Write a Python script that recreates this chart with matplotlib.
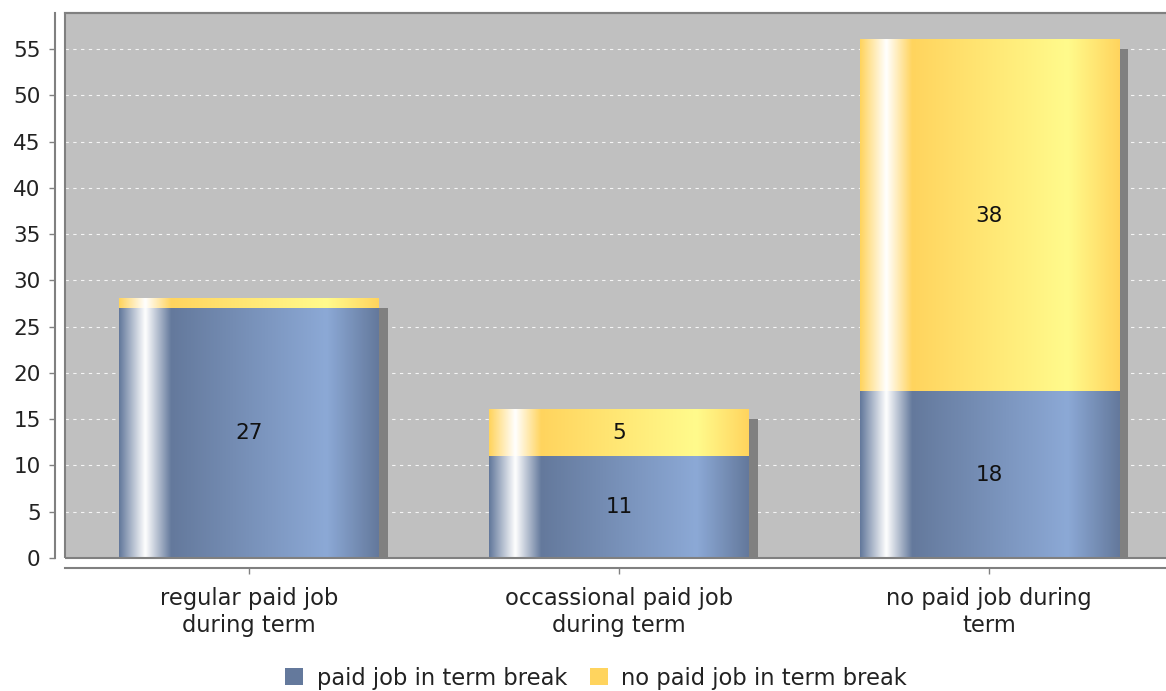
"""Stacked bar chart: paid job during term vs. paid job in term break."""
import matplotlib

matplotlib.use("Agg")
import matplotlib.pyplot as plt
import matplotlib.transforms as mtransforms
import numpy as np
from matplotlib.colors import to_rgb
from matplotlib.patches import Patch, Rectangle

categories = ["regular paid job\nduring term", "occassional paid job\nduring term", "no paid job during\nterm"]
series_names = ["paid job in term break", "no paid job in term break"]
paid_break = [27, 11, 18]
no_paid_break = [1, 5, 38]

# base colour / brighter colour for the gradient painter
BLUE = ("#64799c", "#8ca9d6")
YELLOW = ("#ffd45e", "#fffb8c")
GRID_BG = "#c0c0c0"
AXIS_GRAY = "#808080"


def gradient_row(base, bright, n=256):
    """Horizontal bar gradient: base -> white -> base -> bright -> base."""
    stops = [0.0, 0.10, 0.20, 0.80, 1.0]
    cols = [to_rgb(base), (1, 1, 1), to_rgb(base), to_rgb(bright), to_rgb(base)]
    t = np.linspace(0, 1, n)
    rgb = np.stack([np.interp(t, stops, [c[i] for c in cols]) for i in range(3)], axis=-1)
    return rgb[np.newaxis, :, :]


fig = plt.figure(figsize=(11.66, 6.91), dpi=100)
ax = fig.add_axes([65 / 1166, 133 / 691, 1108 / 1166, 545 / 691])
ax.set_facecolor(GRID_BG)

x = np.arange(len(categories))
width = 0.7
bottoms = [np.zeros(len(x)), np.array(paid_break, dtype=float)]
shadow_tf = mtransforms.offset_copy(ax.transData, fig=fig, x=9.5, y=-9.5, units="dots")

for vals, bottom, (base, bright) in zip([paid_break, no_paid_break], bottoms, [BLUE, YELLOW]):
    bars = ax.bar(x, vals, width, bottom=bottom, color=base, zorder=3)
    for patch, v in zip(bars.patches, vals):
        x0, y0 = patch.get_x(), patch.get_y()
        w, h = patch.get_width(), patch.get_height()
        # drop shadow
        ax.add_patch(Rectangle((x0, y0), w, h, transform=shadow_tf,
                               facecolor=AXIS_GRAY, edgecolor="none", zorder=2))
        ax.imshow(gradient_row(base, bright), extent=[x0, x0 + w, y0, y0 + h],
                  aspect="auto", interpolation="bilinear", zorder=4)
        if v >= 2:
            ax.text(x0 + w / 2, y0 + h / 2, str(v), ha="center", va="center",
                    fontsize=15.5, color="#111111", zorder=5)

ax.set_xlim(-0.497, 2.497)
ax.set_ylim(0, 58.9)
ax.set_yticks(range(0, 56, 5))
ax.set_xticks(x)
ax.set_xticklabels(categories)

ax.set_axisbelow(True)
ax.yaxis.grid(True, color="white", linestyle=(0, (3, 4)), linewidth=0.8, alpha=0.85)

for side in ["top", "right"]:
    ax.spines[side].set_color(AXIS_GRAY)
    ax.spines[side].set_linewidth(1.5)
for side in ["left", "bottom"]:
    ax.spines[side].set_position(("outward", 7))
    ax.spines[side].set_color(AXIS_GRAY)
    ax.spines[side].set_linewidth(1.5)
# plot area border
ax.add_patch(Rectangle((0, 0), 1, 1, transform=ax.transAxes, fill=False,
                       edgecolor=AXIS_GRAY, linewidth=1.5, zorder=6, clip_on=False))

ax.tick_params(axis="y", length=4, width=1, color=AXIS_GRAY, pad=6.5,
               labelsize=15.5, labelcolor="#222222")
ax.tick_params(axis="x", length=4, width=1, color=AXIS_GRAY, pad=10,
               labelsize=16.3, labelcolor="#222222")

handles = [Patch(facecolor=BLUE[0], edgecolor="none"),
           Patch(facecolor=YELLOW[0], edgecolor="none")]
fig.legend(handles, series_names, loc="center", bbox_to_anchor=(596 / 1166, 1 - 678 / 691),
           ncol=2, frameon=False, fontsize=16.3, handlelength=0.8, handleheight=0.8,
           handletextpad=0.6, columnspacing=1.0, labelcolor="#222222")

fig.savefig("out.png", dpi=100)
